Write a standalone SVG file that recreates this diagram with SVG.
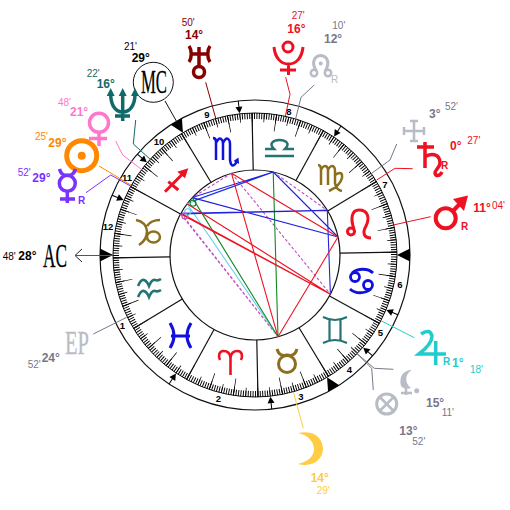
<svg xmlns="http://www.w3.org/2000/svg" width="510" height="510" viewBox="0 0 510 510">
<style>
text{font-family:"Liberation Sans",Arial,sans-serif}
.m{font-size:10px}
.d{font-size:12px;font-weight:700}
.h{font-size:9.500px;font-weight:700;text-anchor:middle;fill:#000}
.big{font-family:"Liberation Serif","Times New Roman",serif;font-size:33px;stroke-width:.3}
.dash{stroke:#c050c0;stroke-dasharray:3 2;fill:none}
.rd{stroke:#ee1122}.bl{stroke:#2222dd}.lb{stroke:#66ccee}.gr{stroke:#118822}
</style>
<defs>
<line id="cusp" x1="340" y1="255" x2="397" y2="255" stroke="#111" stroke-width="1.200"/>
<g id="harrow"><line x1="410" y1="255" x2="402" y2="255" stroke="#000"/><polygon points="397.500,255 404,251.500 404,258.500" fill="#000"/></g>
<polygon id="tri" points="397,255 410,248.500 410,261.500" fill="#000"/>
</defs>
<rect width="510" height="510" fill="#fff"/>
<g id="wheel">
<circle cx="255" cy="255" r="155" fill="none" stroke="#111" stroke-width="1.200"/>
<circle cx="255" cy="255" r="142" fill="none" stroke="#111" stroke-width="1"/>
<circle cx="255" cy="255" r="85" fill="none" stroke="#111" stroke-width="1.200"/>
<circle cx="255" cy="255" r="139" fill="none" stroke="#000" stroke-width="6" pathLength="360" stroke-dasharray="0.4 0.6" stroke-dashoffset="0.4"/>
<circle cx="255" cy="255" r="137.500" fill="none" stroke="#000" stroke-width="9" pathLength="360" stroke-dasharray="0.3 4.700" stroke-dashoffset="1.350"/>
<circle cx="255" cy="255" r="133.500" fill="none" stroke="#000" stroke-width="17" pathLength="360" stroke-dasharray="0.3 9.700" stroke-dashoffset="1.350"/>
<use href="#cusp" transform="rotate(-1.200 255 255)"/><use href="#cusp" transform="rotate(-31.200 255 255)"/><use href="#cusp" transform="rotate(-61.200 255 255)"/><use href="#cusp" transform="rotate(-91.200 255 255)"/><use href="#cusp" transform="rotate(-121.200 255 255)"/><use href="#cusp" transform="rotate(-151.200 255 255)"/><use href="#cusp" transform="rotate(-181.200 255 255)"/><use href="#cusp" transform="rotate(-211.200 255 255)"/><use href="#cusp" transform="rotate(-241.200 255 255)"/><use href="#cusp" transform="rotate(-271.200 255 255)"/><use href="#cusp" transform="rotate(-301.200 255 255)"/><use href="#cusp" transform="rotate(-331.200 255 255)"/>
<use href="#tri"/><use href="#tri" transform="rotate(180 255 255)"/><use href="#tri" transform="rotate(-120.500 255 255)"/><use href="#tri" transform="rotate(59.500 255 255)"/>
<use href="#harrow" transform="rotate(-96.200 255 255)"/><use href="#harrow" transform="rotate(-56.300 255 255)"/><use href="#harrow" transform="rotate(-139.400 255 255)"/><use href="#harrow" transform="rotate(-157.300 255 255)"/><use href="#harrow" transform="rotate(123.700 255 255)"/><use href="#harrow" transform="rotate(83.800 255 255)"/><use href="#harrow" transform="rotate(40.600 255 255)"/><use href="#harrow" transform="rotate(22.700 255 255)"/>
<text class="h" x="122.500" y="329">1</text><text class="h" x="218.500" y="402">2</text><text class="h" x="301" y="400">3</text><text class="h" x="349.500" y="373">4</text><text class="h" x="380.500" y="336">5</text><text class="h" x="400" y="288">6</text><text class="h" x="385" y="188">7</text><text class="h" x="289" y="115">8</text><text class="h" x="207" y="118">9</text><text class="h" x="159" y="145">10</text><text class="h" x="127" y="181">11</text><text class="h" x="108" y="230">12</text>
</g>
<g id="aspects" stroke-width="1.100" fill="none">
<path class="dash" d="M181,213.300L278,336.800M180.600,214L278,336.800M231.500,173.300L330.400,294.200M273.200,172L327.300,210.400M231.500,173.300L192.300,197.600"/>
<path class="lb" d="M187.100,203.800L273.200,172M187.100,203.800L278,336.800"/>
<path class="gr" d="M273.200,172L278,336.800M192.300,197.600L278,336.800"/>
<path class="bl" d="M192.300,197.600L273.200,172M193,201L273.200,172M192.300,197.600L338,237M181,213.300L327.300,210.400M180.600,214L327.300,210.400M273.200,172L338,237M327.300,210.400L330.400,294.200"/>
<path class="rd" d="M231.500,173.300L278,336.800M231.500,173.300L338,237M338,237L278,336.800M181,213.300L330.400,294.200M180.600,214L330.400,294.200M187.100,203.800L330.400,294.200"/>
<circle cx="193" cy="203.300" r="3" class="gr"/><circle cx="187.700" cy="211.700" r="3" class="lb"/><circle cx="185" cy="216" r="3" stroke="#c050c0"/>
</g>
<g id="connectors" fill="none" stroke-width="1">
<polyline points="205.700,82.300 215.800,118.500" stroke="#880000"/>
<polyline points="135.700,120 133.300,144 150.200,159.200" stroke="#116a6a"/>
<polyline points="115.700,141 122.700,155 141.600,169.500" stroke="#ff77cc"/>
<polyline points="99,166 131.300,185.300" stroke="#ff8800"/>
<polyline points="86,192.700 110.700,175 130.800,186.200" stroke="#7a33ff"/>
<polyline points="285.700,77.300 290,94.300 285.400,116" stroke="#ee1122"/>
<polyline points="314.300,85 301,97.300 295.600,119" stroke="#778"/>
<polyline points="396.700,144 390,160 371.700,173.300" stroke="#778"/>
<polyline points="412.700,168.700 395,168.300 376.700,180" stroke="#ee1122"/>
<polyline points="430.700,216.700 393.300,225" stroke="#ee1122"/>
<polyline points="414.300,337.700 381,320.700" stroke="#22cccc"/>
<polyline points="393.300,369.300 374.300,368.300 356,352.700" stroke="#778"/>
<polyline points="373.300,390 371.700,368.300 351,347.700" stroke="#778"/>
<polyline points="303.300,428.300 293.300,391.700" stroke="#ffcc44"/>
<polyline points="93.300,334 126.700,317.300" stroke="#778"/>
<line x1="182" y1="131" x2="165" y2="101" stroke="#111"/>
<polyline points="113,255.500 76,255.500" stroke="#555"/>
<polyline points="82,249 75,255.500 82,262" stroke="#222"/>
</g>
<g id="signs">
<path id="aries" stroke="#ee1122" stroke-width="2.600" fill="none" d="M230.500,375V358C230,352 226,351 223.500,351C219,351 218,356 220,360M230.500,358C231,352 235,351 237.500,351C242,351 243,356 241,360"/>
<g id="taurus" stroke="#8b6f1e" stroke-width="3" fill="none"><circle cx="287" cy="364" r="8.500"/><path d="M277,349C279,356 283,356 287,355C291,356 295,356 297,349"/></g>
<path id="gemini" stroke="#257373" stroke-width="2.200" fill="none" d="M323,317Q335,323 347,317M323,343Q335,337 347,343M329.500,320V340M340.500,320V340"/>
<g id="cancer" stroke="#1111dd" stroke-width="2.800" fill="none"><circle cx="355" cy="277" r="4.500"/><circle cx="368" cy="285" r="4.500"/><path d="M352,273C358,268 368,268 373,273M371,289C365,294 355,294 350,289"/></g>
<g id="leo" stroke="#ee1122" stroke-width="3" fill="none"><circle cx="351" cy="231.500" r="3.500"/><path d="M354,229C350,218 352,210 359,210C368,210 370,218 366,226C362,233 364,238 371,238"/></g>
<path id="virgo" stroke="#8b6f1e" stroke-width="2.500" fill="none" d="M318,165Q321,165 321,170V185M321,170Q324,164 327,167Q328,168 328,171V185M328,170Q331,164 334,167Q335,168 335,171V183Q336,190 342,191M335,175Q343,170 342,178Q340,186 329,191"/>
<path id="libra" stroke="#257373" stroke-width="2.500" fill="none" d="M265,156H294M265,149H274C268,143 274,140 279.500,140C285,140 291,143 285,149H294"/>
<g id="scorpio"><path stroke="#1111dd" stroke-width="2.500" fill="none" d="M213,138Q216,138 216,142V160M216,143Q219,137 221,139Q223,140 223,144V160M223,143Q226,137 228,139Q230,140 230,144V160Q231,167 234,165Q236,164 237,160"/><polygon points="233.500,161 238.500,157.500 239,164" fill="#1111dd"/></g>
<g id="sagittarius"><path stroke="#ee1122" stroke-width="3" fill="none" d="M165,191.700L184,172.500M168.300,181.700L178.300,190"/><polygon points="188.300,168.300 177.300,171.700 185,178.300" fill="#ee1122"/></g>
<g id="capricorn" stroke="#8b6f1e" stroke-width="2.500" fill="none"><path d="M136,220Q146,222 147,231Q147,240 139,245M147,226Q151,220 160,220"/><ellipse cx="153.500" cy="237" rx="6.500" ry="5.500"/></g>
<path id="aquarius" stroke="#257373" stroke-width="2.600" fill="none" d="M138,286Q141,279 144,280Q147,281 149,286Q152,279 155,280Q158,281 161,279M138,297Q141,290 144,291Q147,292 149,297Q152,290 155,291Q158,292 161,290"/>
<path id="pisces" stroke="#1111dd" stroke-width="3" fill="none" d="M170,323Q178,336 170,348M191,323Q183,336 191,348M171,336H190"/>
</g>
<g id="uranus"><path fill="none" stroke="#880000" stroke-width="3.500" d="M189,46C192,50 192,58 189,62M210,46C207,50 207,58 210,62M190.500,54H208.500M199,47V66"/><circle cx="199" cy="72" r="5.500" fill="none" stroke="#880000" stroke-width="3.500"/><text class="m" x="181.700" y="26" fill="#880000">50'</text><text class="d" x="185" y="39" fill="#880000">14°</text></g>
<g id="mc"><circle cx="153.300" cy="82.300" r="20" fill="#fff" stroke="#111"/><text class="big" x="141" y="93" textLength="26" lengthAdjust="spacingAndGlyphs" fill="#000" stroke="#000">MC</text><text class="m" x="124" y="50" fill="#000">21'</text><text class="d" x="131.700" y="62" fill="#000">29°</text></g>
<g id="neptune"><path fill="none" stroke="#116a6a" stroke-width="3.500" d="M110.700,94C110.700,106 116,112 122.700,112C129.400,112 135,106 135,94M122.700,94V121M115,116H130"/><path fill="#116a6a" d="M110.700,88l-4,8h8zM122.700,88l-4,8h8zM135,88l-4,8h8z"/><text class="m" x="86.700" y="77" fill="#116a6a">22'</text><text class="d" x="96.700" y="88" fill="#116a6a">16°</text></g>
<g id="venus"><circle cx="99" cy="122.700" r="9.500" fill="none" stroke="#ff77cc" stroke-width="3.500"/><path fill="none" stroke="#ff77cc" stroke-width="3.500" d="M99,132V146M89,138.500H107"/><text class="m" x="58" y="106" fill="#ff77cc">48'</text><text class="d" x="70" y="115.700" fill="#ff77cc">21°</text></g>
<g id="sun"><circle cx="81.700" cy="155.700" r="15" fill="none" stroke="#ff8800" stroke-width="5"/><circle cx="81.700" cy="155.700" r="4" fill="#ff8800"/><text class="m" x="35" y="140" fill="#ff8800">25'</text><text class="d" x="48.300" y="146.700" fill="#ff8800">29°</text></g>
<g id="mercury"><circle cx="67.300" cy="183.300" r="8" fill="none" stroke="#7a33ff" stroke-width="3.500"/><path fill="none" stroke="#7a33ff" stroke-width="3.500" d="M59.500,169C61,175 64,175.500 67.300,175.500C70.500,175.500 74,175 75.500,169M67.300,191V203M60,199H75"/><text class="m" x="17.700" y="175.700" fill="#7a33ff">52'</text><text class="d" x="32.300" y="182" fill="#7a33ff">29°</text><text class="m" x="78" y="204" fill="#7a33ff" font-weight="700">R</text></g>
<g id="pluto"><circle cx="288" cy="47" r="5" fill="none" stroke="#ee1122" stroke-width="3"/><path fill="none" stroke="#ee1122" stroke-width="3" d="M274,47C275,58 281,64 288.500,64C296,64 302,58 303,47M288.500,64V75M280,70H296"/><text class="m" x="291.700" y="19.300" fill="#ee1122">27'</text><text class="d" x="287.300" y="33.300" fill="#ee1122">16°</text></g>
<g id="node"><path fill="none" stroke="#b8bcc4" stroke-width="3" d="M316.500,71C311,63 314,56 320.700,55.500C327.500,56 330.500,63 325,71"/><circle cx="320.700" cy="63.500" r="2" fill="#b8bcc4"/><circle cx="314" cy="73" r="3.200" fill="none" stroke="#b8bcc4" stroke-width="2.500"/><circle cx="328" cy="73" r="3.200" fill="none" stroke="#b8bcc4" stroke-width="2.500"/><text class="m" x="331" y="83" fill="#b8bcc4">R</text><text class="m" x="332.300" y="29.300" fill="#778">10'</text><text class="d" x="324" y="43.300" fill="#778">12°</text></g>
<g id="cross"><path fill="none" stroke="#b8bcc4" stroke-width="2.500" d="M414,120V142M403,131H425M410,121H418M410,141H418M404,127V135M424,127V135"/><text class="d" x="429" y="118.300" fill="#778">3°</text><text class="m" x="445" y="110" fill="#778">52'</text></g>
<g id="saturn"><path fill="none" stroke="#ee1122" stroke-width="3.500" d="M425,142V168M417,147H434M425,157C430,153 440,153 440,163C440,167 435,170 435,173C436,177 440,176 442,172"/><text class="m" x="441" y="169" fill="#ee1122" font-weight="700">R</text><text class="d" x="450" y="150" fill="#ee1122">0°</text><text class="m" x="467.300" y="144" fill="#ee1122">27'</text></g>
<g id="mars"><circle cx="445.700" cy="218.300" r="10" fill="none" stroke="#ee1122" stroke-width="4"/><path fill="none" stroke="#ee1122" stroke-width="4" d="M453,211L463,200.500"/><polygon points="468,195.500 453,199 464,211" fill="#ee1122"/><text class="m" x="461" y="230" fill="#ee1122" font-weight="700">R</text><text class="d" x="473.300" y="211.700" fill="#ee1122">11°</text><text class="m" x="492" y="209" fill="#ee1122">04'</text></g>
<g id="jupiter"><path fill="none" stroke="#22cccc" stroke-width="3.500" d="M421,334Q430,328 432,336Q432,344 419,354H446M435.700,341V365"/><text class="m" x="443" y="365" fill="#22cccc" font-weight="700">R</text><text class="d" x="452" y="367" fill="#22cccc">1°</text><text class="m" x="470" y="373" fill="#22cccc">18'</text></g>
<g id="chiron"><path fill="#b8bcc4" d="M412,370C402,370 399,378 401,386C403,389 408,389 411,388C405,384 404,374 412,370Z"/><path fill="none" stroke="#b8bcc4" stroke-width="2.500" d="M406,388V395M401,393H412"/><circle cx="416.700" cy="390.700" r="2.500" fill="#b8bcc4"/><text class="d" x="426" y="407" fill="#778">15°</text><text class="m" x="441.700" y="415.700" fill="#778">11'</text></g>
<g id="fortune"><circle cx="386.700" cy="404" r="10" fill="none" stroke="#b8bcc4" stroke-width="3"/><path fill="none" stroke="#b8bcc4" stroke-width="2.500" d="M379.700,397L393.700,411M393.700,397L379.700,411"/><text class="d" x="399.300" y="435" fill="#778">13°</text><text class="m" x="412.300" y="445" fill="#778">52'</text></g>
<g id="moon"><path fill="#ffcc44" d="M298,433C316,429 323,440 323,449C323,458 314,468 298,464C310,461 314,455 314,449C314,442 308,435 298,433Z"/><text class="d" x="310.700" y="481.700" fill="#ffcc44">14°</text><text class="m" x="316.700" y="494.300" fill="#ffcc44">29'</text></g>
<g id="ascendant"><text class="big" x="43" y="267" textLength="24" lengthAdjust="spacingAndGlyphs" fill="#000" stroke="#000">AC</text><text class="m" x="2.700" y="260" fill="#000">48'</text><text class="d" x="18.300" y="260" fill="#000">28°</text></g>
<g id="ep"><text class="big" x="65" y="353.700" textLength="24" lengthAdjust="spacingAndGlyphs" fill="#b8bcc4" stroke="#b8bcc4">EP</text><text class="m" x="27.700" y="368.300" fill="#778">52'</text><text class="d" x="41.700" y="361.700" fill="#778">24°</text></g>
</svg>
